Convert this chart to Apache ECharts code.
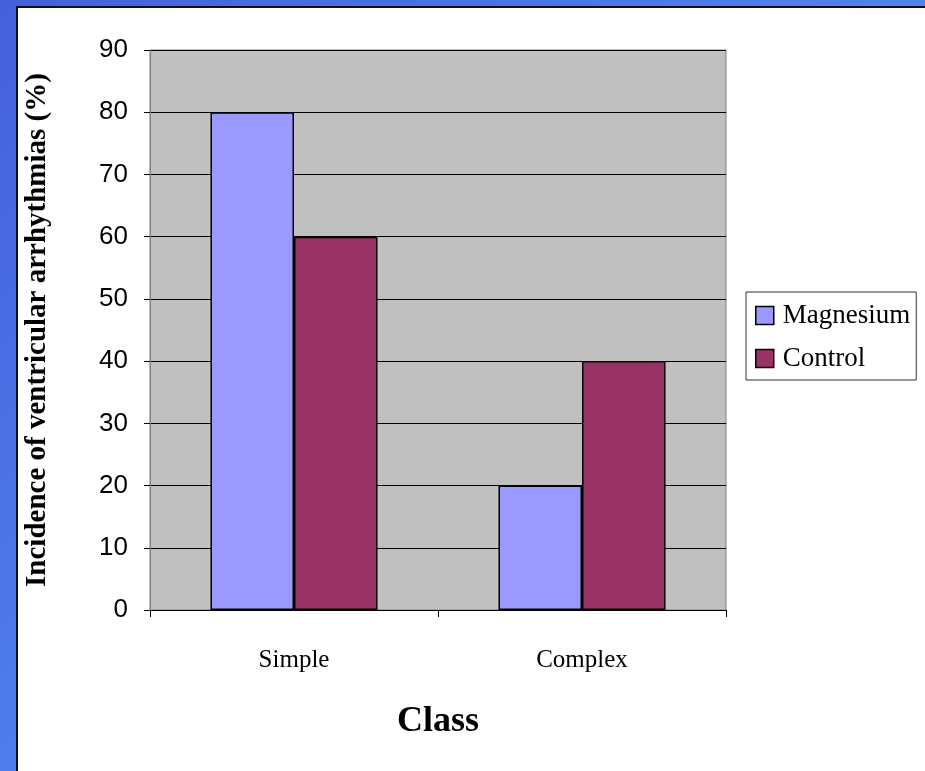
<!DOCTYPE html>
<html>
<head>
<meta charset="utf-8">
<script src="https://cdn.jsdelivr.net/npm/echarts@6/dist/echarts.min.js"></script>
<style>
html,body{margin:0;padding:0;width:925px;height:771px;overflow:hidden;
background:linear-gradient(135deg,#4560db 0%,#5080ee 50%,#5a8cf4 100%);}
#panel{position:absolute;left:16px;top:6px;width:909px;height:765px;background:#fff;
border-left:2px solid #111;border-top:2px solid #111;box-sizing:border-box;}
#chart{position:absolute;left:0;top:0;width:925px;height:771px;}
</style>
</head>
<body>
<div id="panel"></div>
<div id="chart"></div>
<script>
const categories = ['Simple', 'Complex'];
const magnesium = [80, 20];
const control = [60, 40];
const seriesNames = ['Magnesium', 'Control'];
const yMin = 0, yMax = 90, yStep = 10;

const chart = echarts.init(document.getElementById('chart'), null, {renderer: 'canvas'});
const serif = '"Liberation Serif","Times New Roman",serif';
chart.setOption({
  animation: false,
  backgroundColor: 'transparent',
  grid: {left: 150, right: 199, top: 50, bottom: 161, show: true,
         backgroundColor: '#c0c0c0', borderColor: '#808080', borderWidth: 1},
  legend: {
    orient: 'vertical', left: 746, top: 292,
    backgroundColor: '#fff', borderColor: '#333', borderWidth: 1,
    padding: [10, 6, 8, 9], itemGap: 16, itemWidth: 18, itemHeight: 18,
    icon: 'rect',
    textStyle: {fontFamily: serif, fontSize: 27, color: '#000', padding: [0, 0, 0, 4]},
    itemStyle: {borderColor: '#000', borderWidth: 1.5},
    data: seriesNames
  },
  xAxis: {
    type: 'category', data: categories,
    axisLine: {lineStyle: {color: '#000', width: 1}},
    axisTick: {show: true, alignWithLabel: false, length: 7, lineStyle: {color: '#000'}},
    axisLabel: {fontFamily: serif, fontSize: 25, color: '#000', margin: 38},
    name: 'Class', nameLocation: 'middle', nameGap: 94,
    nameTextStyle: {fontFamily: serif, fontSize: 36, fontWeight: 'bold', color: '#000'}
  },
  yAxis: {
    type: 'value', min: yMin, max: yMax, interval: yStep,
    axisLine: {show: true, lineStyle: {color: '#808080', width: 1}},
    axisTick: {show: true, length: 6, lineStyle: {color: '#000'}},
    splitLine: {show: true, lineStyle: {color: '#000', width: 1}},
    axisLabel: {fontFamily: 'Arial, "Liberation Sans", sans-serif', fontSize: 26, color: '#000', margin: 22},
    name: 'Incidence of ventricular arrhythmias (%)', nameLocation: 'middle', nameGap: 98,
    nameTextStyle: {fontFamily: serif, fontSize: 29, fontWeight: 'bold', color: '#000'}
  },
  series: [
    {name: seriesNames[0], type: 'bar', data: magnesium, barGap: '0%', barCategoryGap: '42%',
     itemStyle: {color: '#9999ff', borderColor: '#000', borderWidth: 1.5}},
    {name: seriesNames[1], type: 'bar', data: control, barGap: '0%', barCategoryGap: '42%',
     itemStyle: {color: '#993366', borderColor: '#000', borderWidth: 1.5}}
  ]
});
</script>
</body>
</html>
